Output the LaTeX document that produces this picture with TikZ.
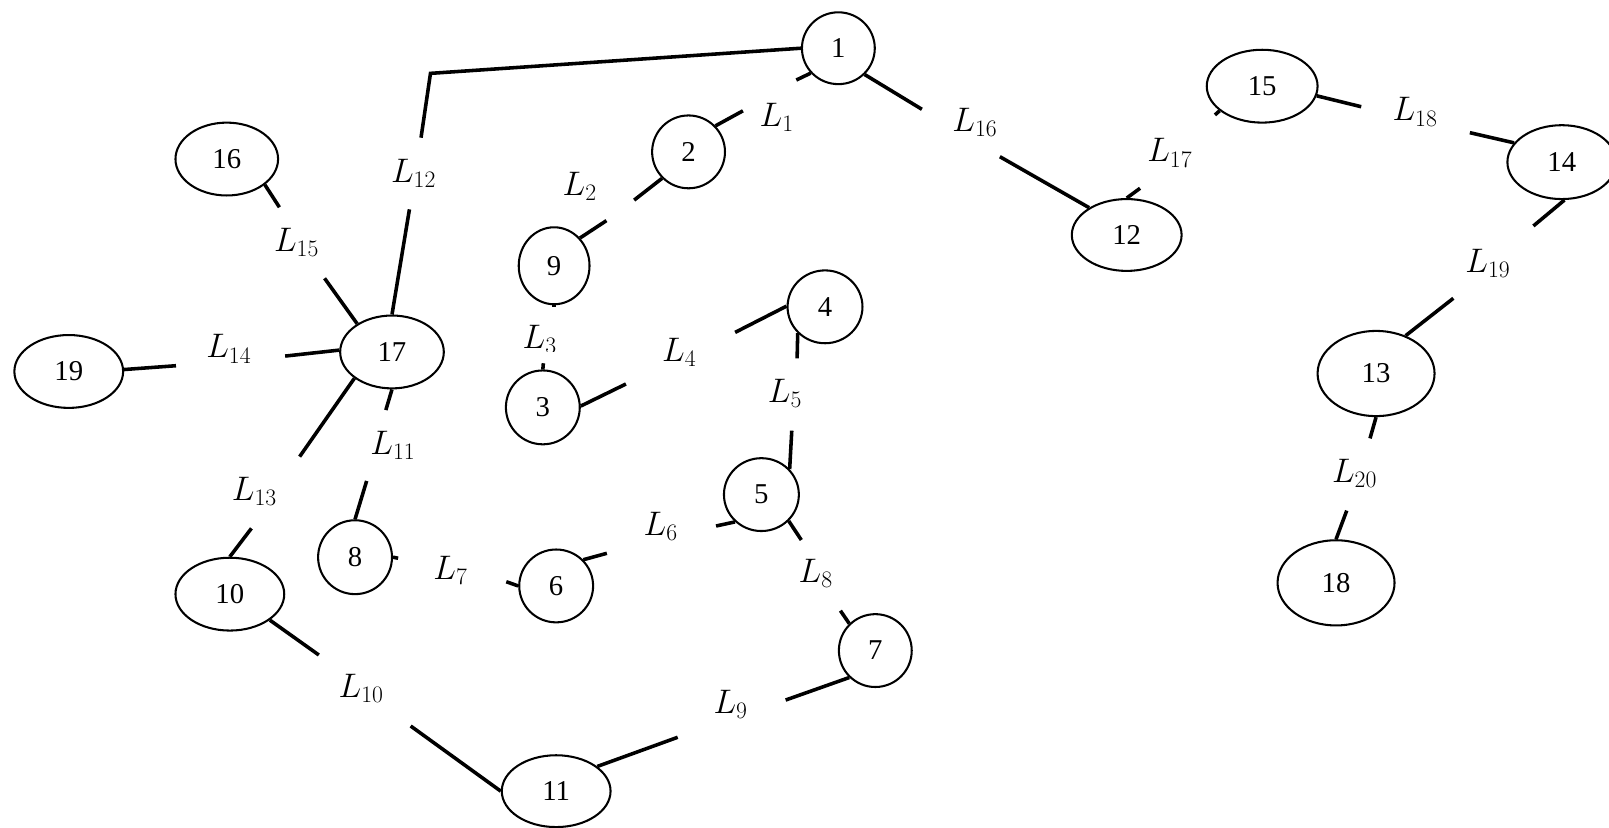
\documentclass[tikz,border=0pt]{standalone}
\usepackage{fontspec}
\setmainfont{Liberation Serif}
\usetikzlibrary{shapes.geometric}
\newcommand\numfont{\fontsize{21}{25}\selectfont}
\newcommand\labfont{\fontsize{23}{28}\selectfont}
\tikzset{
  nd/.style 2 args={draw, ellipse, line width=1.5pt, inner sep=0pt,
    minimum width=#1*0.75pt, minimum height=#2*0.75pt, font=\numfont},
  lab/.style={font=\labfont, inner sep=0pt},
  conn/.style={line width=2.6pt}
}
\begin{document}
\begin{tikzpicture}[x=0.75pt,y=-0.75pt]
\useasboundingbox (0,0) rectangle (1568,806);
% nodes
\node[nd={71}{70}]  (n1)  at (817,47)   {1};
\node[nd={71}{71}]  (n2)  at (671,148)  {2};
\node[nd={72}{72}]  (n3)  at (529,397)  {3};
\node[nd={73}{71}]  (n4)  at (804,299)  {4};
\node[nd={73}{71}]  (n5)  at (742,482)  {5};
\node[nd={72}{71}]  (n6)  at (542,571)  {6};
\node[nd={71}{71}]  (n7)  at (853,634)  {7};
\node[nd={72}{72}]  (n8)  at (346,543)  {8};
\node[nd={69}{75}]  (n9)  at (540,259)  {9};
\node[nd={106}{71}] (n10) at (224,579)  {10};
\node[nd={106}{70}] (n11) at (542,771)  {11};
\node[nd={107}{70}] (n12) at (1098,229) {12};
\node[nd={114}{83}] (n13) at (1341,364) {13};
\node[nd={106}{72}] (n14) at (1522,158) {14};
\node[nd={108}{71}] (n15) at (1230,84)  {15};
\node[nd={100}{71}] (n16) at (221,155)  {16};
\node[nd={101}{71}] (n17) at (382,343)  {17};
\node[nd={114}{83}] (n18) at (1302,568) {18};
\node[nd={106}{71}] (n19) at (67,362)   {19};
% gap ends
\coordinate (g1a) at (724,108);   \coordinate (g1b) at (776,78);
\coordinate (g2a) at (618,195);   \coordinate (g2b) at (591,215);
\coordinate (g3a) at (540,299.5); \coordinate (g3b) at (529.5,354);
\coordinate (g4a) at (716.4,323.9); \coordinate (g4b) at (610,374.2);
\coordinate (g5a) at (776.8,349.2); \coordinate (g5b) at (771.6,419.7);
\coordinate (g6a) at (697.8,512.6); \coordinate (g6b) at (591.4,539.2);
\coordinate (g7a) at (388,544);   \coordinate (g7b) at (493.4,566.9);
\coordinate (g8a) at (780.9,526.2); \coordinate (g8b) at (819,595.1);
\coordinate (g9a) at (765.6,682.2); \coordinate (g9b) at (660.4,718.5);
\coordinate (g10a) at (310.7,638.3); \coordinate (g10b) at (400.2,707.5);
\coordinate (g11a) at (376,399.6); \coordinate (g11b) at (357.3,468.7);
\coordinate (g12a) at (399,204);  \coordinate (g12b) at (410.3,134.2);
\coordinate (c12) at (419.5,71.5);
\coordinate (g13a) at (292,445);  \coordinate (g13b) at (245,514.9);
\coordinate (g14a) at (171.5,356.4); \coordinate (g14b) at (277.9,347);
\coordinate (g15a) at (272.3,202); \coordinate (g15b) at (316.3,271.2);
\coordinate (g16a) at (898.4,106.5); \coordinate (g16b) at (974.4,152.7);
\coordinate (g17a) at (1111,183.5); \coordinate (g17b) at (1184,112);
\coordinate (g18a) at (1326.5,104); \coordinate (g18b) at (1432.4,129.3);
\coordinate (g19a) at (1494.3,220.2); \coordinate (g19b) at (1416.3,290.7);
\coordinate (g20a) at (1335.1,427.2); \coordinate (g20b) at (1312.4,497.6);
% connectors
\draw[conn] (n2.44) -- (g1a);   \draw[conn] (g1b) -- (n1.222);
\draw[conn] (n2.225) -- (g2a);  \draw[conn] (g2b) -- (n9.47);
\draw[conn] (n9.270) -- (g3a);  \draw[conn] (g3b) -- (n3.90);
\draw[conn] (n4.179) -- (g4a);  \draw[conn] (g4b) -- (n3.2);
\draw[conn] (n4.224) -- (g5a);  \draw[conn] (g5b) -- (n5.42);
\draw[conn] (n5.226) -- (g6a);  \draw[conn] (g6b) -- (n6.44);
\draw[conn] (n8.0) -- (g7a);    \draw[conn] (g7b) -- (n6.180);
\draw[conn] (n5.316) -- (g8a);  \draw[conn] (g8b) -- (n7.134);
\draw[conn] (n7.226) -- (g9a);  \draw[conn] (g9b) -- (n11.31);
\draw[conn] (n10.327) -- (g10a); \draw[conn] (g10b) -- (n11.180);
\draw[conn] (n17.270) -- (g11a); \draw[conn] (g11b) -- (n8.90);
\draw[conn] (n17.90) -- (g12a);  \draw[conn] (g12b) -- (c12) -- (n1.180);
\draw[conn] (n17.215) -- (g13a); \draw[conn] (g13b) -- (n10.90);
\draw[conn] (n19.2) -- (g14a);   \draw[conn] (g14b) -- (n17.178);
\draw[conn] (n16.326) -- (g15a); \draw[conn] (g15b) -- (n17.141);
\draw[conn] (n1.315) -- (g16a);  \draw[conn] (g16b) -- (n12.144);
\draw[conn] (n12.90) -- (g17a);  \draw[conn] (g17b) -- (n15.210);
\draw[conn] (n15.350) -- (g18a); \draw[conn] (g18b) -- (n14.158);
\draw[conn] (n14.274) -- (g19a); \draw[conn] (g19b) -- (n13.52);
\draw[conn] (n13.270) -- (g20a); \draw[conn] (g20b) -- (n18.90);
% labels
\node[lab] (l1)  at (757,114)  {$L_{1}$};
\node[lab] (l2)  at (565,182)  {$L_{2}$};
\begin{scope}
  \clip (0,0) rectangle (1568,342.7);
  \node[lab] (l3) at (526,331) {$L_{3}$};
\end{scope}
\node[lab] (l4)  at (662,343)  {$L_{4}$};
\node[lab] (l5)  at (765,383)  {$L_{5}$};
\node[lab] (l6)  at (644,513)  {$L_{6}$};
\node[lab] (l7)  at (439,556)  {$L_{7}$};
\node[lab] (l8)  at (795,559)  {$L_{8}$};
\node[lab] (l9)  at (712,686)  {$L_{9}$};
\node[lab] (l10) at (352,671)  {$L_{10}$};
\node[lab] (l11) at (383,434)  {$L_{11}$};
\node[lab] (l12) at (403,169)  {$L_{12}$};
\node[lab] (l13) at (248,479)  {$L_{13}$};
\node[lab] (l14) at (223,340)  {$L_{14}$};
\node[lab] (l15) at (289,236)  {$L_{15}$};
\node[lab] (l16) at (950,119)  {$L_{16}$};
\node[lab] (l17) at (1140,149) {$L_{17}$};
\node[lab] (l18) at (1379,109) {$L_{18}$};
\node[lab] (l19) at (1450,257) {$L_{19}$};
\node[lab] (l20) at (1320,461) {$L_{20}$};
\end{tikzpicture}
\end{document}
